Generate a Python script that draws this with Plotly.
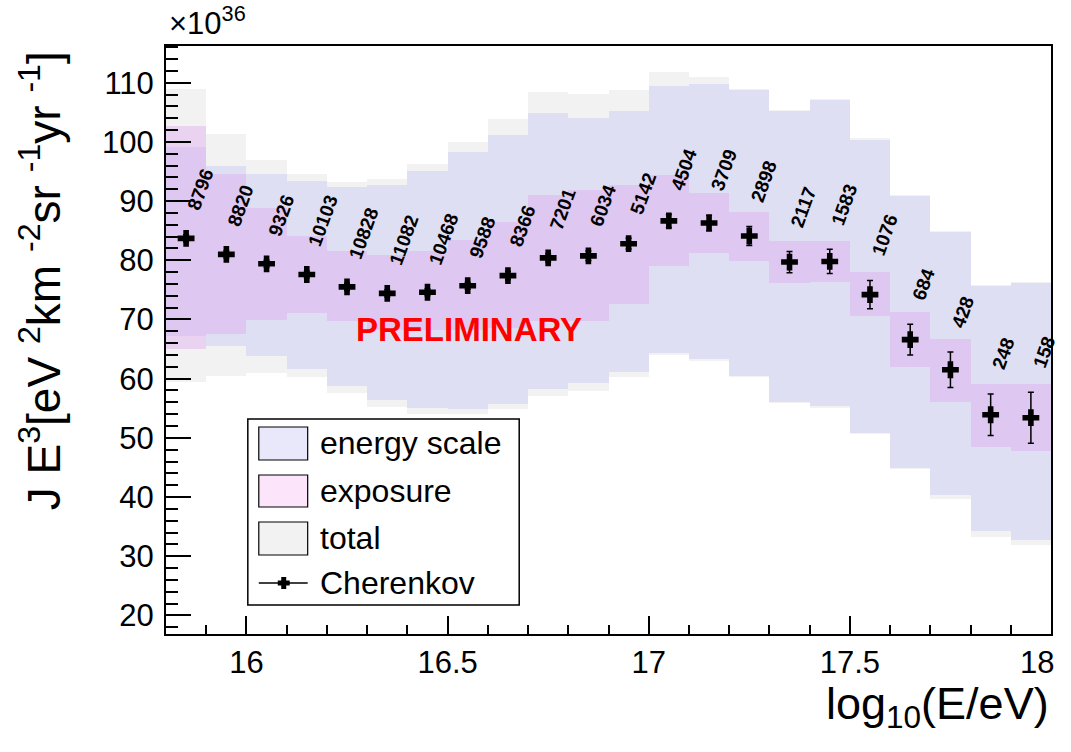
import plotly.graph_objects as go

# ---------------- data ----------------
log_e = [15.85, 15.95, 16.05, 16.15, 16.25, 16.35, 16.45, 16.55, 16.65, 16.75, 16.85,
         16.95, 17.05, 17.15, 17.25, 17.35, 17.45, 17.55, 17.65, 17.75, 17.85, 17.95]
bin_width = 0.1

flux = [83.7, 81.0, 79.4, 77.6, 75.5, 74.4, 74.6, 75.7, 77.4, 80.4, 80.75,
        82.8, 86.65, 86.3, 84.1, 79.7, 79.8, 74.2, 66.6, 61.5, 53.9, 53.4]
flux_err = [0.6, 0.6, 0.6, 0.6, 0.6, 0.6, 0.6, 0.6, 0.7, 0.7, 0.8,
            0.9, 1.1, 1.3, 1.6, 1.8, 2.05, 2.4, 2.6, 3.0, 3.5, 4.3]
events = [8796, 8820, 9326, 10103, 10828, 11082, 10468, 9588, 8366, 7201, 6034,
          5142, 4504, 3709, 2898, 2117, 1583, 1076, 684, 428, 248, 158]

energy_lo = [67.2, 65.5, 63.9, 61.7, 58.8, 56.4, 55.0, 54.9, 55.8, 58.2, 59.2,
             61.2, 64.3, 63.3, 60.5, 56.1, 55.3, 50.8, 44.9, 40.4, 34.2, 32.8]
energy_hi = [99.1, 96.0, 94.6, 93.4, 92.4, 92.8, 95.0, 98.3, 101.2, 104.9, 104.0,
             105.2, 109.5, 109.8, 108.8, 105.2, 107.0, 100.4, 90.9, 84.8, 75.6, 76.2]

exposure_lo = [64.95, 67.5, 69.95, 71.1, 69.7, 68.3, 68.3, 68.3, 68.6, 69.7, 69.8,
               72.65, 79.1, 81.25, 79.85, 76.1, 76.3, 70.6, 62.0, 56.1, 48.4, 47.85]
exposure_hi = [102.7, 94.6, 88.85, 84.1, 81.5, 80.9, 81.65, 83.5, 86.4, 91.0, 91.8,
               92.8, 94.4, 91.4, 88.1, 83.2, 83.2, 78.0, 71.3, 66.7, 59.1, 59.1]

total_lo = [59.4, 60.5, 60.9, 60.2, 57.6, 55.2, 54.0, 54.0, 54.8, 57.1, 57.9,
            60.2, 64.0, 63.0, 60.3, 55.9, 55.1, 50.6, 44.7, 39.7, 33.3, 31.9]
total_hi = [108.9, 101.3, 96.9, 94.5, 93.2, 93.8, 96.3, 100.0, 103.8, 108.4, 108.1,
            108.7, 111.8, 110.95, 109.0, 105.4, 107.2, 100.6, 91.1, 85.0, 75.8, 76.4]

x_ticks = [16, 16.5, 17, 17.5, 18]
x_ticktext = ["16", "16.5", "17", "17.5", "18"]
y_ticks = [20, 30, 40, 50, 60, 70, 80, 90, 100, 110]
y_ticktext = ["20", "30", "40", "50", "60", "70", "80", "90", "100", "110"]

legend_labels = ["energy scale", "exposure", "total", "Cherenkov"]

# ---------------- styling ----------------
FONT = "Liberation Sans, Arial, Helvetica, sans-serif"
W, H = 1059, 752          # drawable viewport width
L, R, T, B = 166, 1053, 46, 634

C_TOTAL = "#f2f2f2"
C_ENERGY = "rgb(223,223,243)"
C_EXPO = "rgba(222,160,238,0.38)"


def px(xp):
    return (xp - L) / (R - L)


def py(yp):
    return (B - yp) / (B - T)


def band(lo, hi, color):
    return go.Bar(
        x=log_e, y=[h - l for l, h in zip(lo, hi)], base=lo, width=bin_width,
        marker=dict(color=color, line=dict(width=0)),
        hoverinfo="skip", showlegend=False,
    )


fig = go.Figure()
fig.add_trace(band(total_lo, total_hi, C_TOTAL))
fig.add_trace(band(energy_lo, energy_hi, C_ENERGY))
fig.add_trace(band(exposure_lo, exposure_hi, C_EXPO))

fig.add_trace(go.Scatter(
    x=log_e, y=flux, mode="markers",
    marker=dict(symbol="cross", size=14, color="black", line=dict(width=0)),
    error_y=dict(type="data", array=flux_err, color="black", thickness=1.5, width=3),
    showlegend=False, hoverinfo="skip",
))

annotations = []
# event-count labels
for xv, yv, ev, n in zip(log_e, flux, flux_err, events):
    annotations.append(dict(
        x=xv, y=yv + ev, xref="x", yref="y", text=f"<b>{n}</b>",
        showarrow=False, textangle=-70, xanchor="left", yanchor="bottom",
        xshift=-5, yshift=19, font=dict(family=FONT, size=19, color="black"),
    ))

# last x tick label drawn as annotation so it stays fully inside the page
annotations.append(dict(
    x=x_ticks[-1], y=py(662), xref="x", yref="paper", text=x_ticktext[-1],
    showarrow=False, xanchor="right", yanchor="middle", xshift=5,
    font=dict(family=FONT, size=31, color="black"),
))

# PRELIMINARY
annotations.append(dict(
    x=px(470), y=py(329), xref="paper", yref="paper", text="<b>PRELIMINARY</b>",
    showarrow=False, xanchor="center", yanchor="middle",
    font=dict(family=FONT, size=33, color="#ff0000"),
))

# x10^36
annotations.append(dict(
    x=px(167), y=py(43), xref="paper", yref="paper", text="×10<sup>36</sup>",
    showarrow=False, xanchor="left", yanchor="bottom",
    font=dict(family=FONT, size=31, color="black"),
))

# axis titles
annotations.append(dict(
    x=1.0, y=py(676), xref="paper", yref="paper", text="log<sub>10</sub>(E/eV)",
    showarrow=False, xanchor="right", yanchor="top",
    font=dict(family=FONT, size=45, color="black"),
))
annotations.append(dict(
    x=px(40), y=py(281), xref="paper", yref="paper",
    text="J E<sup>3</sup>[eV <sup>2</sup>km <sup>-2</sup>sr <sup>-1</sup>yr <sup>-1</sup>]",
    showarrow=False, textangle=-90, xanchor="center", yanchor="middle",
    font=dict(family=FONT, size=46, color="black"),
))

# legend (drawn manually in ROOT style)
shapes = []
shapes.append(dict(type="rect", xref="paper", yref="paper", layer="above",
                   x0=px(248), x1=px(520), y0=py(605), y1=py(419),
                   line=dict(color="black", width=1.5), fillcolor="white"))
swatches = [("rgb(232,232,250)", 427, 460), ("rgb(252,228,250)", 475, 507),
            ("rgb(242,242,242)", 522, 555)]
for col, y0, y1 in swatches:
    shapes.append(dict(type="rect", xref="paper", yref="paper", layer="above",
                       x0=px(259), x1=px(308), y0=py(y1), y1=py(y0),
                       line=dict(color="black", width=1.2), fillcolor=col))
shapes.append(dict(type="line", xref="paper", yref="paper", layer="above",
                   x0=px(259), x1=px(308), y0=py(583), y1=py(583),
                   line=dict(color="black", width=1.5)))
shapes.append(dict(type="rect", xref="paper", yref="paper", layer="above",
                   x0=px(278), x1=px(290), y0=py(585.5), y1=py(580.5),
                   line=dict(width=0), fillcolor="black"))
shapes.append(dict(type="rect", xref="paper", yref="paper", layer="above",
                   x0=px(281.5), x1=px(286.5), y0=py(589), y1=py(577),
                   line=dict(width=0), fillcolor="black"))
for lab, yc in zip(legend_labels, [443, 491, 538, 583]):
    annotations.append(dict(
        x=px(318), y=py(yc), xref="paper", yref="paper", text=lab,
        showarrow=False, xanchor="left", yanchor="middle",
        font=dict(family=FONT, size=32, color="black"),
    ))

fig.update_layout(
    width=W, height=H, autosize=False,
    margin=dict(l=L, r=W - R, t=T, b=H - B, pad=0),
    paper_bgcolor="white", plot_bgcolor="white",
    barmode="overlay", bargap=0,
    showlegend=False,
    font=dict(family=FONT, color="black"),
    annotations=annotations, shapes=shapes,
)
fig.update_xaxes(
    range=[15.8, 18.0], tickmode="array", tickvals=x_ticks[:-1], ticktext=x_ticktext[:-1],
    ticks="inside", ticklen=18, tickwidth=1.5, tickcolor="black",
    minor=dict(dtick=0.1, tick0=15.8, ticks="inside", ticklen=9, tickwidth=1.5, tickcolor="black", showgrid=False),
    showline=True, linewidth=2, linecolor="black", mirror=True,
    showgrid=False, zeroline=False,
    tickfont=dict(family=FONT, size=31, color="black"),
    ticklabelstandoff=0,
)
fig.update_yaxes(
    range=[16.86, 116.2], tickmode="array", tickvals=y_ticks, ticktext=y_ticktext,
    ticks="inside", ticklen=25, tickwidth=1.5, tickcolor="black",
    minor=dict(dtick=2, tick0=0, ticks="inside", ticklen=12, tickwidth=1.5, tickcolor="black", showgrid=False),
    showline=True, linewidth=2, linecolor="black", mirror=True,
    showgrid=False, zeroline=False,
    tickfont=dict(family=FONT, size=31, color="black"),
    ticklabelstandoff=4,
)

fig.write_html(
    "out.html",
    config={"displayModeBar": False, "responsive": False},
    post_script=(
        "document.body.style.margin='0px';"
        "document.body.style.overflow='hidden';"
        "document.documentElement.style.overflow='hidden';"
    ),
)
